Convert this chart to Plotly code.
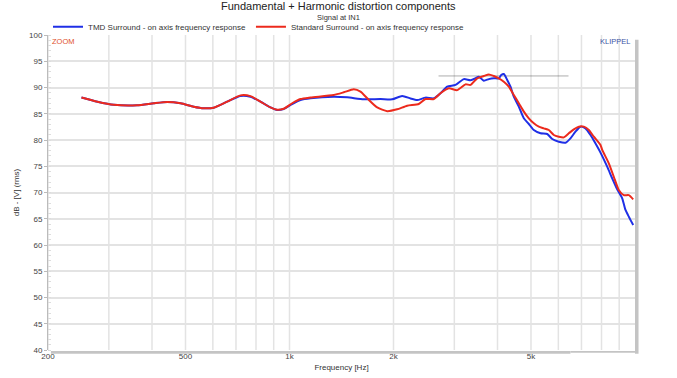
import numpy as np
import plotly.graph_objects as go

# ---- data ----
freq_tmd = [250, 278, 310, 362, 405, 443, 484, 528, 565, 603, 660, 721, 771, 824, 881, 921, 962,
            1018, 1076, 1150, 1343, 1469, 1641, 1834, 1983, 2119, 2240, 2342, 2475, 2617, 2735,
            2860, 3023, 3196, 3341, 3454, 3531, 3651, 3775, 3903, 4035, 4100, 4172, 4267, 4362,
            4459, 4610, 4767, 4928, 5095, 5328, 5571, 5760, 6019, 6292, 6505, 6726, 6954, 7190,
            7434, 7600, 7946, 8309, 8590, 8880, 9182, 9386, 9594, 9880]
db_tmd = [88.1, 87.3, 86.7, 86.6, 87.0, 87.25, 87.0, 86.35, 86.05, 86.15, 87.3, 88.4, 88.25, 87.3,
          86.2, 85.7, 85.9, 86.85, 87.6, 87.95, 88.25, 88.13, 87.75, 87.8, 87.75, 88.4, 87.9, 87.6,
          88.07, 87.94, 88.9, 90.16, 90.5, 91.6, 91.4, 91.75, 92.06, 91.3, 91.6, 91.75, 91.75,
          92.38, 92.57, 91.43, 90.16, 88.25, 86.35, 84.13, 83.05, 81.9, 81.27, 81.14, 80.19, 79.68,
          79.49, 80.32, 81.59, 82.54, 82.22, 80.95, 79.9, 77.6, 74.92, 72.7, 70.6, 68.9, 66.67,
          65.4, 63.8]

freq_std = [250, 278, 310, 362, 405, 443, 484, 528, 565, 603, 660, 721, 771, 824, 881, 921, 962,
            1018, 1076, 1150, 1343, 1436, 1535, 1605, 1679, 1794, 1918, 2049, 2191, 2367, 2475,
            2617, 2735, 2891, 3058, 3232, 3341, 3493, 3651, 3775, 3903, 4035, 4172, 4312, 4459,
            4610, 4767, 4928, 5095, 5268, 5447, 5630, 5821, 6019, 6223, 6433, 6651, 6876, 7109,
            7351, 7600, 7946, 8038, 8398, 8682, 8975, 9280, 9594, 9880]
db_std = [88.1, 87.3, 86.7, 86.6, 87.0, 87.25, 87.0, 86.35, 86.05, 86.15, 87.3, 88.5, 88.35, 87.3,
          86.2, 85.75, 85.95, 87.0, 87.8, 88.1, 88.57, 89.08, 89.65, 89.2, 87.94, 86.2, 85.5,
          85.84, 86.53, 86.86, 87.8, 87.8, 88.9, 89.84, 89.5, 90.6, 90.5, 91.75, 92.19, 92.5,
          92.19, 91.75, 91.1, 90.16, 88.57, 87.0, 85.4, 84.13, 83.18, 82.54, 82.22, 81.9, 80.95,
          80.63, 80.5, 81.27, 82.03, 82.54, 82.54, 81.9, 80.63, 79.05, 78.1, 75.56, 73.0, 70.48,
          69.5, 69.5, 68.7]

ref_freq = [2700, 6420]
ref_db = [92.2, 92.2]

x_tickvals = [200, 500, 1000, 2000, 5000]
x_ticktext = ["200", "500", "1k", "2k", "5k"]
y_tickvals = list(range(40, 101, 5))

FONT = "Liberation Sans, Arial, sans-serif"
BLUE = "#1f2fe6"
RED = "#ec2a1c"

fig = go.Figure()
fig.add_trace(go.Scatter(x=ref_freq, y=ref_db, mode="lines", showlegend=False,
                         line=dict(color="rgba(50,50,50,0.5)", width=0.8), hoverinfo="skip"))
fig.add_trace(go.Scatter(x=freq_tmd, y=db_tmd, mode="lines",
                         name="TMD Surround - on axis frequency response",
                         line=dict(color=BLUE, width=2, shape="spline", smoothing=0.6)))
fig.add_trace(go.Scatter(x=freq_std, y=db_std, mode="lines",
                         name="Standard Surround - on axis frequency response",
                         line=dict(color=RED, width=2, shape="spline", smoothing=0.6)))

grid_x = [200, 300, 400, 500, 600, 700, 800, 900, 1000, 2000, 3000, 4000, 5000, 6000, 7000, 8000, 9000]

fig.update_layout(
    width=677, height=378,
    margin=dict(l=48, r=42, t=35, b=28, autoexpand=False),
    paper_bgcolor="white", plot_bgcolor="white",
    font=dict(family=FONT, size=8, color="#444"),
    showlegend=True,
    legend=dict(orientation="h", x=0.0, xanchor="left", y=1.026, yanchor="middle",
                font=dict(size=8, color="#333"), bgcolor="rgba(0,0,0,0)",
                itemwidth=30, tracegroupgap=0),
    xaxis=dict(type="log", range=[np.log10(200), 4.0], tickvals=x_tickvals, ticktext=x_ticktext,
               showgrid=False, zeroline=False, showline=False, ticks="",
               tickfont=dict(size=8, color="#444"),
               title=dict(text="Frequency [Hz]", font=dict(size=8, color="#333"), standoff=4)),
    yaxis=dict(range=[40, 100], tickvals=y_tickvals, showgrid=True, gridcolor="#e3e3e3", gridwidth=1.5,
               zeroline=False, showline=True, linecolor="#bbbbbb", linewidth=1,
               ticks="outside", ticklen=3, tickcolor="#bbbbbb",
               minor=dict(dtick=1, ticks="inside", ticklen=3, tickcolor="#dddddd", showgrid=False),
               tickfont=dict(size=8, color="#444"),
               title=dict(text="dB - [V] (rms)", font=dict(size=8, color="#333"), standoff=8)),
)

shapes = []
for g in grid_x:
    shapes.append(dict(type="line", xref="x", yref="paper", x0=g, x1=g, y0=0, y1=1,
                       line=dict(color="#e3e3e3", width=1.5), layer="below"))
# scrollbar-like gray bars
shapes.append(dict(type="rect", xref="paper", yref="paper", x0=0.005, x1=0.89, y0=-0.012, y1=-0.003,
                   fillcolor="#c4c4c4", line=dict(width=0)))
shapes.append(dict(type="rect", xref="paper", yref="paper", x0=0.89, x1=1.0, y0=-0.009, y1=-0.003,
                   fillcolor="#c4c4c4", line=dict(width=0)))
shapes.append(dict(type="rect", xref="paper", yref="paper", x0=1.0, x1=1.006, y0=-0.012, y1=0.985,
                   fillcolor="#c4c4c4", line=dict(width=0)))
fig.update_layout(shapes=shapes)

fig.add_annotation(text="Fundamental + Harmonic distortion components", xref="paper", yref="paper",
                   x=(338 - 48) / 587, y=1, yshift=29, showarrow=False,
                   font=dict(size=11, color="#222", family=FONT), xanchor="center", yanchor="middle")
fig.add_annotation(text="Signal at IN1", xref="paper", yref="paper",
                   x=(338 - 48) / 587, y=1, yshift=18, showarrow=False,
                   font=dict(size=7.5, color="#333", family=FONT), xanchor="center", yanchor="middle")
fig.add_annotation(text="ZOOM", xref="paper", yref="paper", x=0, y=1, xshift=2, yshift=-6,
                   showarrow=False, xanchor="left", yanchor="middle",
                   font=dict(size=7.5, color="#e0502a", family=FONT))
fig.add_annotation(text="KLIPPEL", xref="paper", yref="paper", x=1, y=1, xshift=-3, yshift=-6,
                   showarrow=False, xanchor="right", yanchor="middle",
                   font=dict(size=7.5, color="#3a55a5", family=FONT))

fig.write_html("out.html", config={"displayModeBar": False},
               post_script="document.body.style.margin='0px';document.body.style.overflow='hidden';")
